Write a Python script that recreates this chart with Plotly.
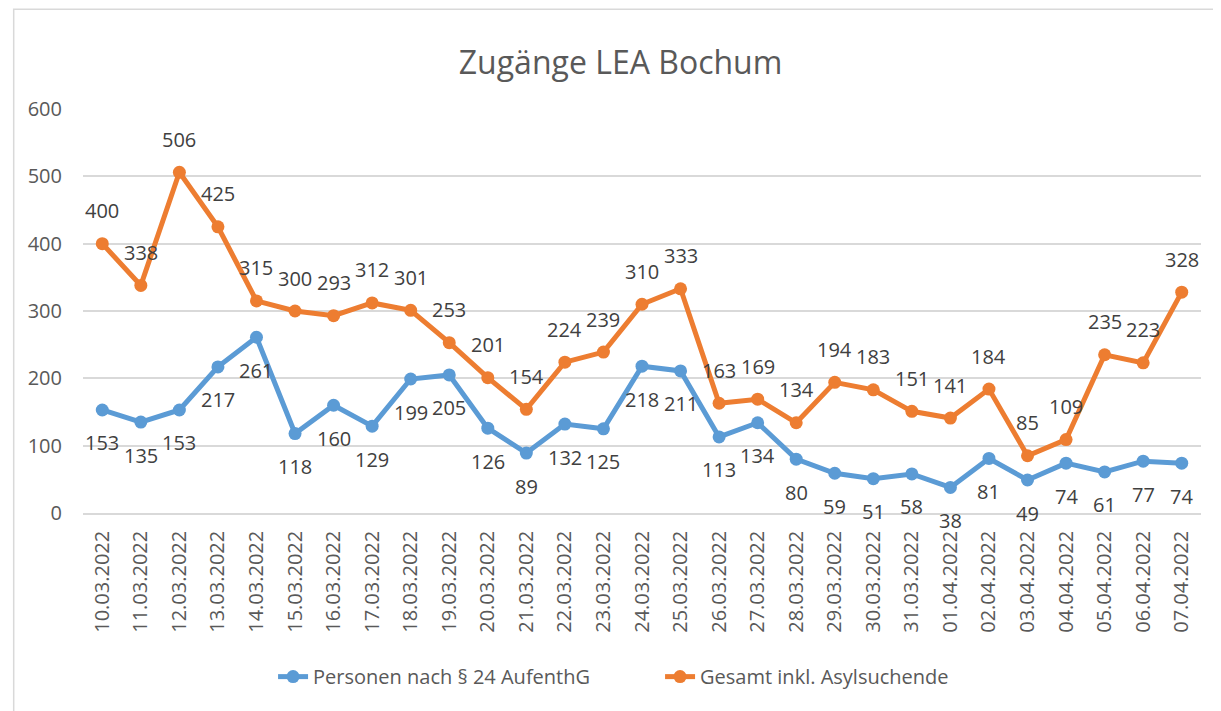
import plotly.graph_objects as go

dates = ["10.03.2022", "11.03.2022", "12.03.2022", "13.03.2022", "14.03.2022", "15.03.2022",
         "16.03.2022", "17.03.2022", "18.03.2022", "19.03.2022", "20.03.2022", "21.03.2022",
         "22.03.2022", "23.03.2022", "24.03.2022", "25.03.2022", "26.03.2022", "27.03.2022",
         "28.03.2022", "29.03.2022", "30.03.2022", "31.03.2022", "01.04.2022", "02.04.2022",
         "03.04.2022", "04.04.2022", "05.04.2022", "06.04.2022", "07.04.2022"]
personen = [153, 135, 153, 217, 261, 118, 160, 129, 199, 205, 126, 89, 132, 125, 218, 211,
            113, 134, 80, 59, 51, 58, 38, 81, 49, 74, 61, 77, 74]
gesamt = [400, 338, 506, 425, 315, 300, 293, 312, 301, 253, 201, 154, 224, 239, 310, 333,
          163, 169, 134, 194, 183, 151, 141, 184, 85, 109, 235, 223, 328]

BLUE = "#5b9bd5"
ORANGE = "#ed7d31"
TXT = "#595959"
LBL = "#404040"
FONT = "Open Sans"

fig = go.Figure()
fig.add_trace(go.Scatter(x=dates, y=personen, mode="lines+markers",
                         name="Personen nach § 24 AufenthG",
                         line=dict(color=BLUE, width=5),
                         marker=dict(size=13, color=BLUE)))
fig.add_trace(go.Scatter(x=dates, y=gesamt, mode="lines+markers",
                         name="Gesamt inkl. Asylsuchende",
                         line=dict(color=ORANGE, width=5),
                         marker=dict(size=13, color=ORANGE)))

annotations = []
for d, v in zip(dates, personen):
    annotations.append(dict(x=d, y=v, text=str(v), showarrow=False, yshift=-33,
                            font=dict(size=20, color=LBL, family=FONT)))
for d, v in zip(dates, gesamt):
    annotations.append(dict(x=d, y=v, text=str(v), showarrow=False, yshift=33,
                            font=dict(size=20, color=LBL, family=FONT)))

fig.update_layout(
    width=1213, height=703,
    paper_bgcolor="white", plot_bgcolor="white",
    margin=dict(l=75, r=20, t=101, b=198),
    title=dict(text="Zugänge LEA Bochum", x=0.505, xanchor="center", y=0.922, yanchor="middle",
               font=dict(size=32, color=TXT, family=FONT)),
    font=dict(family=FONT, color=TXT),
    showlegend=True,
    legend=dict(orientation="h", x=0.17, xanchor="left", y=-0.405, yanchor="middle",
                font=dict(size=20, color=TXT, family=FONT),
                entrywidth=342, entrywidthmode="pixels",
                traceorder="normal"),
    annotations=annotations,
    shapes=[dict(type="rect", xref="paper", yref="paper", x0=-0.062, x1=1.2, y0=-0.6, y1=1.247,
                 line=dict(color="#d9d9d9", width=1.5), fillcolor="rgba(0,0,0,0)", layer="below")],
)
fig.update_xaxes(type="category", range=[-0.5, len(dates) - 0.5], tickangle=-90,
                 tickfont=dict(size=20, color=TXT, family=FONT), showgrid=False,
                 showline=True, linecolor="#d9d9d9", linewidth=1.5, ticks="", ticklabelstandoff=8)
fig.update_yaxes(range=[0, 600], dtick=100, tickfont=dict(size=20, color=TXT, family=FONT),
                 showgrid=True, gridcolor="#d9d9d9", gridwidth=1.5, zeroline=False,
                 showline=False, ticks="", ticklabelstandoff=20)

fig.write_html("out.html")
